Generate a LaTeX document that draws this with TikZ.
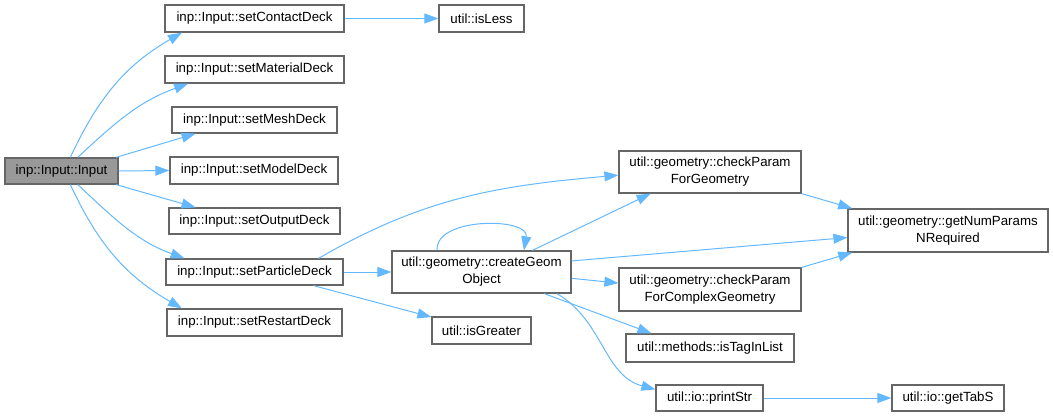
\documentclass[tikz,border=0pt]{standalone}
\usepackage{fontspec}
\setmainfont{Liberation Sans}
\usepackage{tikz}
\usetikzlibrary{arrows.meta, positioning}
\definecolor{boxgray}{HTML}{666666}
\definecolor{rootgray}{HTML}{999999}
\definecolor{callblue}{HTML}{63B8FF}
\tikzset{
    fnbox/.style={draw=boxgray, line width=1.2pt, fill=white, inner sep=0pt, align=center, font=\fontsize{13.3}{17}\selectfont},
    rootbox/.style={fnbox, fill=rootgray},
    call/.style={draw=callblue, line width=1pt, -{Triangle[length=14pt, width=10pt]}}
}

\begin{document}
\begin{tikzpicture}[x=1pt, y=1pt]
    \useasboundingbox (0,0) rectangle (1053,-417);

    % Nodo radice
    \node[rootbox, minimum width=113pt, minimum height=26pt] (Input) at (61.5,-171) {inp::Input::Input};

    % Metodi set*Deck
    \node[fnbox, minimum width=179pt, minimum height=27pt] (ContactDeck) at (254.5,-18.5) {inp::Input::setContactDeck};
    \node[fnbox, minimum width=179pt, minimum height=27pt] (MaterialDeck) at (254.5,-69.5) {inp::Input::setMaterialDeck};
    \node[fnbox, minimum width=165pt, minimum height=26pt] (MeshDeck) at (254.5,-120) {inp::Input::setMeshDeck};
    \node[fnbox, minimum width=168pt, minimum height=27pt] (ModelDeck) at (254,-170.5) {inp::Input::setModelDeck};
    \node[fnbox, minimum width=171pt, minimum height=26pt] (OutputDeck) at (254.5,-221) {inp::Input::setOutputDeck};
    \node[fnbox, minimum width=177pt, minimum height=26pt] (ParticleDeck) at (254.5,-272) {inp::Input::setParticleDeck};
    \node[fnbox, minimum width=175pt, minimum height=27pt] (RestartDeck) at (254.5,-322.5) {inp::Input::setRestartDeck};

    % Funzioni util
    \node[fnbox, minimum width=85pt, minimum height=27pt] (IsLess) at (481.5,-18.5) {util::isLess};
    \node[fnbox, minimum width=179pt, minimum height=42pt] (CreateGeom) at (481.5,-272) {util::geometry::createGeom\\Object};
    \node[fnbox, minimum width=99pt, minimum height=27pt] (IsGreater) at (481.5,-330.5) {util::isGreater};
    \node[fnbox, minimum width=182pt, minimum height=42pt] (CheckGeom) at (710,-172) {util::geometry::checkParam\\ForGeometry};
    \node[fnbox, minimum width=182pt, minimum height=43pt] (CheckComplex) at (710,-289.5) {util::geometry::checkParam\\ForComplexGeometry};
    \node[fnbox, minimum width=168pt, minimum height=28pt] (IsTagInList) at (710,-348) {util::methods::isTagInList};
    \node[fnbox, minimum width=107pt, minimum height=26pt] (PrintStr) at (709.5,-398) {util::io::printStr};
    \node[fnbox, minimum width=112pt, minimum height=26pt] (GetTabS) at (948,-398) {util::io::getTabS};
    \node[fnbox, minimum width=200pt, minimum height=43pt] (NumParams) at (948,-230.5) {util::geometry::getNumParams\\NRequired};

    % Chiamate da Input
    \draw[call] (Input.57) to[out=65, in=210] (ContactDeck.191);
    \draw[call] (Input.40) to[out=43, in=200] (MaterialDeck.192);
    \draw[call] (Input.14) -- (MeshDeck.193);
    \draw[call] (Input.east) -- (ModelDeck.west);
    \draw[call] (Input.-14) -- (OutputDeck.167);
    \draw[call] (Input.-40) to[out=-43, in=160] (ParticleDeck.169);
    \draw[call] (Input.-57) to[out=-65, in=150] (RestartDeck.169);

    % Chiamate di secondo livello
    \draw[call] (ContactDeck.east) -- (IsLess.west);
    \draw[call] (ParticleDeck.12) to[out=30, in=185] (CheckGeom.182);
    \draw[call] (ParticleDeck.east) -- (CreateGeom.west);
    \draw[call] (ParticleDeck.-13) -- (IsGreater.165);

    % createGeomObject
    \draw[call] (CreateGeom.154) to[out=95, in=80] (CreateGeom.27);
    \draw[call] (CreateGeom.23) -- (CheckGeom.200);
    \draw[call] (CreateGeom.7) -- (NumParams.184);
    \draw[call] (CreateGeom.-4) -- (CheckComplex.176);
    \draw[call] (CreateGeom.-19) -- (IsTagInList.166);
    \draw[call] (CreateGeom.-16) to[out=-30, in=165] (PrintStr.171);

    % Ultimo livello
    \draw[call] (CheckGeom.south east) -- (NumParams.167);
    \draw[call] (CheckComplex.north east) -- (NumParams.193);
    \draw[call] (PrintStr.east) -- (GetTabS.west);
\end{tikzpicture}
\end{document}
